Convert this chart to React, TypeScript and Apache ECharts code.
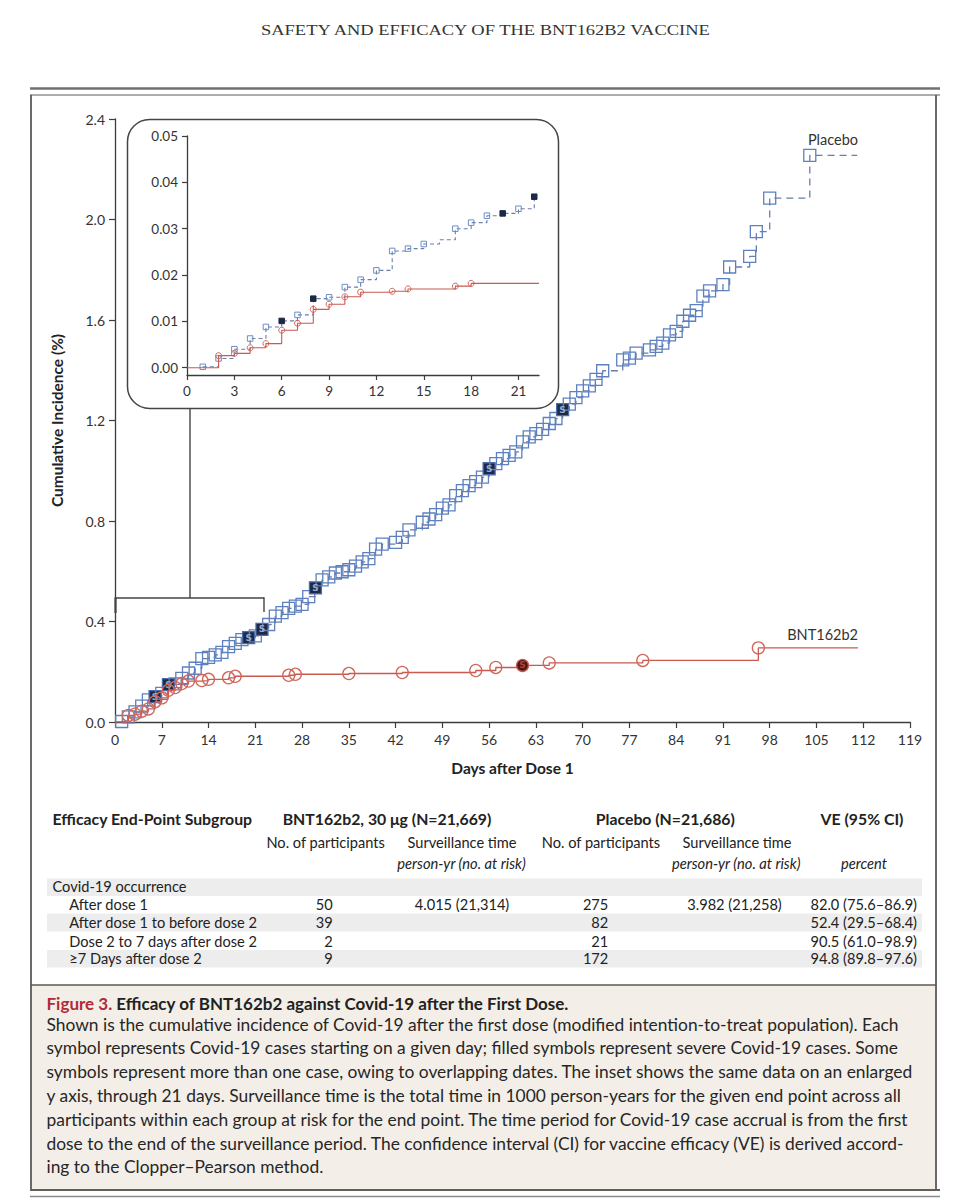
import React, { useEffect, useRef } from "react";
import * as echarts from "echarts";

// ---------------- DATA ----------------
// Main panel: [day, cumulative incidence %]
const mainPlacebo: [number, number][] = [
  [1, 0.002], [2, 0.02], [3, 0.04], [4, 0.063], [5, 0.088], [6, 0.101], [7, 0.114], [8, 0.149],
  [9, 0.152], [10, 0.174], [11, 0.195], [12, 0.214], [13, 0.252], [14, 0.257], [15, 0.267],
  [16, 0.277], [17, 0.3], [18, 0.313], [19, 0.328], [20, 0.336], [21, 0.343], [22, 0.369],
  [23, 0.388], [24, 0.421], [25, 0.435], [26, 0.452], [27, 0.461], [28, 0.468], [29, 0.499],
  [30, 0.534], [31, 0.566], [32, 0.578], [33, 0.593], [34, 0.598], [35, 0.606], [36, 0.62],
  [37, 0.637], [38, 0.65], [39, 0.688], [40, 0.708], [42, 0.715], [43, 0.735], [44, 0.765],
  [46, 0.795], [47, 0.808], [48, 0.825], [49, 0.851], [50, 0.864], [51, 0.901], [52, 0.921],
  [53, 0.941], [54, 0.957], [55, 0.975], [56, 1.008], [57, 1.028], [58, 1.048], [59, 1.061],
  [60, 1.075], [61, 1.115], [62, 1.135], [63, 1.148], [64, 1.165], [65, 1.188], [66, 1.208],
  [67, 1.243], [68, 1.265], [69, 1.291], [70, 1.318], [71, 1.338], [72, 1.364], [73, 1.398],
  [76, 1.441], [77, 1.448], [78, 1.468], [80, 1.481], [81, 1.495], [82, 1.508], [83, 1.541],
  [84, 1.555], [85, 1.595], [86, 1.619], [87, 1.637], [88, 1.695], [89, 1.716], [91, 1.741],
  [92, 1.811], [95, 1.853], [96, 1.952], [98, 2.085], [104, 2.255],
];
const mainPlaceboSevereDays = [6, 8, 20, 22, 30, 56, 67];

const mainBnt: [number, number][] = [
  [2, 0.026], [3, 0.031], [4, 0.043], [5, 0.052], [6, 0.081], [7, 0.096], [8, 0.126],
  [9, 0.137], [10, 0.153], [11, 0.163], [13, 0.165], [14, 0.17], [17, 0.176], [18, 0.182],
  [26, 0.186], [27, 0.19], [35, 0.193], [43, 0.197], [54, 0.205], [57, 0.217], [61, 0.225],
  [65, 0.235], [79, 0.245], [96.3, 0.295],
];
const mainBntSevereDays = [61];
const mainFollowUpEndDay = 111.2;

// Inset panel (enlarged y axis, through 21 days)
const insetPlacebo: [number, number][] = [
  [1, 0.0002], [2, 0.002], [3, 0.004], [4, 0.0063], [5, 0.0088], [6, 0.0101], [7, 0.0114],
  [8, 0.0149], [9, 0.0152], [10, 0.0174], [11, 0.019], [12, 0.021], [13, 0.0252], [14, 0.0257],
  [15, 0.0267], [16, 0.0276], [17, 0.03], [18, 0.0313], [19, 0.0328], [20, 0.0333], [21, 0.0343],
  [22, 0.0369],
];
const insetPlaceboSevereDays = [6, 8, 20, 22];
const insetPlaceboUnmarkedDays = [16];
const insetBnt: [number, number][] = [
  [2, 0.0026], [3, 0.0031], [4, 0.0043], [5, 0.0052], [6, 0.0081], [7, 0.0096], [8, 0.0126],
  [9, 0.0137], [10, 0.0153], [11, 0.0163], [13, 0.0165], [14, 0.017], [17, 0.0176], [18, 0.0182],
];
const insetFollowUpEndDay = 22.3;
const insetXTicks = [0, 3, 6, 9, 12, 15, 18, 21];
const insetYTicks = [0, 0.01, 0.02, 0.03, 0.04, 0.05];

// Table
const tableGroupHeaders = ["Efficacy End-Point Subgroup", "BNT162b2, 30 μg (N=21,669)", "Placebo (N=21,686)", "VE (95% CI)"];
const tableSubHeaders = ["No. of participants", "Surveillance time", "No. of participants", "Surveillance time"];
const tableUnitHeaders = ["person-yr (no. at risk)", "person-yr (no. at risk)", "percent"];
const tableRowLabels = ["Covid-19 occurrence", "After dose 1", "After dose 1 to before dose 2", "Dose 2 to 7 days after dose 2", "≥7 Days after dose 2"];
const bntCounts = ["", "50", "39", "2", "9"];
const bntSurveillance = ["", "4.015 (21,314)", "", "", ""];
const placeboCounts = ["", "275", "82", "21", "172"];
const placeboSurveillance = ["", "3.982 (21,258)", "", "", ""];
const veValues = ["", "82.0 (75.6–86.9)", "52.4 (29.5–68.4)", "90.5 (61.0–98.9)", "94.8 (89.8–97.6)"];

// Caption
const headerText = "SAFETY AND EFFICACY OF THE BNT162B2 VACCINE";
const captionLabel = "Figure 3.";
const captionTitle = "Efficacy of BNT162b2 against Covid-19 after the First Dose.";
const captionLines = [
  "Shown is the cumulative incidence of Covid-19 after the first dose (modified intention-to-treat population). Each",
  "symbol represents Covid-19 cases starting on a given day; filled symbols represent severe Covid-19 cases. Some",
  "symbols represent more than one case, owing to overlapping dates. The inset shows the same data on an enlarged",
  "y axis, through 21 days. Surveillance time is the total time in 1000 person-years for the given end point across all",
  "participants within each group at risk for the end point. The time period for Covid-19 case accrual is from the first",
  "dose to the end of the surveillance period. The confidence interval (CI) for vaccine efficacy (VE) is derived accord-",
  "ing to the Clopper–Pearson method.",
];

// ---------------- HELPERS ----------------
let measureCtx: CanvasRenderingContext2D | null = null;
function measure(text: string, size: number, weight = "normal", style = "normal", family = "Lato") {
  if (!measureCtx) measureCtx = document.createElement("canvas").getContext("2d");
  if (!measureCtx) return text.length * size * 0.5;
  measureCtx.font = `${style} ${weight} ${size}px "${family}"`;
  return measureCtx.measureText(text).width;
}
function fitScale(items: { text: string; w: number }[], size: number, weight = "normal", style = "normal", family = "Lato") {
  let t = 0, m = 0;
  items.forEach((i) => { t += i.w; m += measure(i.text, size, weight, style, family); });
  return m > 0 ? t / m : 1;
}
type TOpt = { size: number; weight?: string; style?: string; family?: string; color?: string; align?: string; scale?: number };
function T(text: string, x: number, y: number, o: TOpt) {
  const align = o.align || "left";
  return {
    type: "text", x, y, scaleX: o.scale || 1, silent: true, z: 10,
    style: {
      text, fill: o.color || "#222", fontSize: o.size, fontWeight: o.weight || "normal",
      fontStyle: o.style || "normal", fontFamily: o.family || "Lato",
      textAlign: align, textVerticalAlign: "middle", align, verticalAlign: "middle",
    },
  };
}
function L(x1: number, y1: number, x2: number, y2: number, stroke: string, lineWidth: number, z = 5) {
  return { type: "line", silent: true, z, shape: { x1, y1, x2, y2 }, style: { stroke, lineWidth } };
}

// ---------------- OPTION ----------------
function buildOption() {
  const PLACEBO_MARK = "#5d80c0";
  const PLACEBO_LINE = "#6a7ea8";
  const BNT_MARK = "#d0675c";
  const BNT_LINE = "#c95a4f";
  const AXIS = "#3c3c3c";

  const mainPlaceboData: any[] = mainPlacebo.map(([d, v]) =>
    mainPlaceboSevereDays.includes(d)
      ? {
          value: [d, v],
          itemStyle: { color: "#1c2a47", borderColor: "#4d6ca8" },
          label: { show: true, position: "inside", formatter: "S", color: "#93aad2", fontSize: 9, fontWeight: "bold", fontFamily: "DejaVu Sans" },
        }
      : [d, v]
  );
  mainPlaceboData.push({ value: [mainFollowUpEndDay - 0.1, mainPlacebo[mainPlacebo.length - 1][1]], symbol: "none" });

  const mainBntData: any[] = [{ value: [0, 0], symbol: "none" }];
  mainBnt.forEach(([d, v]) =>
    mainBntData.push(
      mainBntSevereDays.includes(d)
        ? {
            value: [d, v],
            itemStyle: { color: "#4e1712", borderColor: BNT_LINE },
            label: { show: true, position: "inside", formatter: "S", color: "#a8443a", fontSize: 9, fontWeight: "bold", fontFamily: "DejaVu Sans" },
          }
        : [d, v]
    )
  );
  mainBntData.push({ value: [mainFollowUpEndDay, mainBnt[mainBnt.length - 1][1]], symbol: "none" });

  const insetPlaceboData: any[] = insetPlacebo.map(([d, v]) =>
    insetPlaceboSevereDays.includes(d)
      ? { value: [d, v], itemStyle: { color: "#1c2a47", borderColor: "#1c2a47" } }
      : insetPlaceboUnmarkedDays.includes(d)
      ? { value: [d, v], symbol: "none" }
      : [d, v]
  );
  const insetBntData: any[] = [{ value: [0, 0], symbol: "none" }];
  insetBnt.forEach(([d, v]) => insetBntData.push([d, v]));
  insetBntData.push({ value: [insetFollowUpEndDay, insetBnt[insetBnt.length - 1][1]], symbol: "none" });

  const axisLine = { show: true, onZero: false, lineStyle: { color: AXIS, width: 1.3 } };

  // --------- graphic ---------
  const g: any[] = [];
  // header
  const hSize = 14;
  const hScale = fitScale([{ text: headerText, w: 452 }], hSize, "normal", "normal", "Liberation Serif");
  g.push(T(headerText, 261, 30, { size: hSize, family: "Liberation Serif", color: "#333", scale: hScale }));
  // frame
  g.push(L(30, 88.5, 940, 88.5, "#707070", 2.6));
  g.push(L(30, 95, 940, 95, "#5a5a5a", 1.2));
  g.push(L(31, 95, 31, 1190, "#5a5a5a", 1.8));
  g.push(L(936, 95, 936, 1190, "#5a5a5a", 1.8));
  g.push({ type: "rect", silent: true, z: 1, shape: { x: 31, y: 985, width: 905, height: 205 }, style: { fill: "#f3efe8" } });
  g.push(L(31, 985, 936, 985, "#5a5a5a", 1.6));
  g.push(L(30, 1190, 940, 1190, "#606060", 2.2));
  g.push(L(30, 1196.5, 940, 1196.5, "#8a8a8a", 1.4));

  // inset box + bracket
  g.push({ type: "rect", silent: true, z: 1, shape: { x: 127.5, y: 119.5, width: 431, height: 289, r: 22 }, style: { fill: "none", stroke: "#444", lineWidth: 1.5 } });
  g.push(L(190, 408.5, 190, 598, "#444", 1.4));
  g.push(L(115, 598, 264, 598, "#444", 1.4));
  g.push(L(115.5, 597.3, 115.5, 613, "#444", 2.2));
  g.push(L(264, 597.3, 264, 612, "#444", 1.4));

  // series labels
  g.push(T("Placebo", 858, 139, { size: 14.5, color: "#333", align: "right" }));
  g.push(T("BNT162b2", 858, 634, { size: 14.5, color: "#333", align: "right" }));

  // table bands
  [[878.5, 17.5], [913.5, 18], [950, 17.5]].forEach(([y, h]) =>
    g.push({ type: "rect", silent: true, z: 1, shape: { x: 47, y, width: 875, height: h }, style: { fill: "#ededed" } })
  );
  const tS = 14.5;
  const boldScale = fitScale(
    [
      { text: tableGroupHeaders[0], w: 197 },
      { text: tableGroupHeaders[1], w: 212 },
      { text: tableGroupHeaders[2], w: 136 },
      { text: tableGroupHeaders[3], w: 86 },
    ], 15, "bold"
  );
  const regScale = fitScale(
    [
      { text: tableSubHeaders[0], w: 120 },
      { text: tableSubHeaders[1], w: 111 },
      { text: tableRowLabels[0], w: 132 },
      { text: tableRowLabels[2], w: 187 },
      { text: tableRowLabels[3], w: 187 },
      { text: veValues[1], w: 107 },
    ], tS
  );
  const itScale = fitScale([{ text: tableUnitHeaders[0], w: 131 }, { text: tableUnitHeaders[2], w: 44 }], tS, "normal", "italic");
  const gh = [52.5, 387, 665.3, 862];
  tableGroupHeaders.forEach((t, i) =>
    g.push(T(t, gh[i], 819, { size: 15, weight: "bold", align: i === 0 ? "left" : "center", scale: boldScale }))
  );
  const sh = [325.6, 462, 601, 737];
  tableSubHeaders.forEach((t, i) => g.push(T(t, sh[i], 842.5, { size: tS, align: "center", scale: regScale })));
  const uh = [461.5, 736.2, 864];
  tableUnitHeaders.forEach((t, i) => g.push(T(t, uh[i], 863.5, { size: tS, style: "italic", align: "center", scale: itScale })));
  const rowY = [887, 905, 923, 941.5, 959];
  tableRowLabels.forEach((t, i) => {
    const y = rowY[i];
    g.push(T(t, i === 0 ? 52.5 : 69.3, y, { size: tS, scale: regScale }));
    if (bntCounts[i]) g.push(T(bntCounts[i], 332.7, y, { size: tS, align: "right", scale: regScale }));
    if (bntSurveillance[i]) g.push(T(bntSurveillance[i], 462, y, { size: tS, align: "center", scale: regScale }));
    if (placeboCounts[i]) g.push(T(placeboCounts[i], 608.3, y, { size: tS, align: "right", scale: regScale }));
    if (placeboSurveillance[i]) g.push(T(placeboSurveillance[i], 734.5, y, { size: tS, align: "center", scale: regScale }));
    if (veValues[i]) g.push(T(veValues[i], 917, y, { size: tS, align: "right", scale: regScale }));
  });

  // caption
  const cS = 17.5;
  const capX = 46.5;
  const titleFull = captionLabel + " " + captionTitle;
  const titleScale = fitScale([{ text: titleFull, w: 523 }], cS, "bold");
  g.push(T(captionLabel, capX, 1003, { size: cS, weight: "bold", color: "#b22a3a", scale: titleScale }));
  g.push(T(captionTitle, capX + measure(captionLabel + " ", cS, "bold") * titleScale, 1003, { size: cS, weight: "bold", color: "#222", scale: titleScale }));
  const lineEnds = [900, 880, 922, 905, 911, 912, 323];
  const capScale = fitScale(captionLines.map((t, i) => ({ text: t, w: lineEnds[i] - capX })), cS);
  captionLines.forEach((t, i) => g.push(T(t, capX, 1024 + i * 23.8, { size: cS, color: "#262626", scale: capScale })));

  return {
    animation: false,
    backgroundColor: "#ffffff",
    textStyle: { fontFamily: "Lato" },
    grid: [
      { left: 115, top: 119, width: 795, height: 603 },
      { left: 187, top: 136, width: 352, height: 239 },
    ],
    xAxis: [
      {
        type: "value", gridIndex: 0, min: 0, max: 119, interval: 7,
        axisLine, axisTick: { show: true, length: 6, lineStyle: { color: AXIS, width: 1.2 } },
        axisLabel: { fontSize: 14, color: "#333", margin: 10 }, splitLine: { show: false },
        name: "Days after Dose 1", nameLocation: "middle", nameGap: 38,
        nameTextStyle: { fontSize: 15.5, fontWeight: "bold", color: "#222" },
      },
      {
        type: "value", gridIndex: 1, min: 0, max: insetFollowUpEndDay,
        axisLine, axisTick: { show: true, length: 5, customValues: insetXTicks, lineStyle: { color: AXIS, width: 1.2 } },
        axisLabel: { fontSize: 13.5, color: "#333", margin: 9, customValues: insetXTicks }, splitLine: { show: false },
      },
    ],
    yAxis: [
      {
        type: "value", gridIndex: 0, min: 0, max: 2.4, interval: 0.4,
        axisLine, axisTick: { show: true, length: 6, lineStyle: { color: AXIS, width: 1.2 } },
        axisLabel: { fontSize: 14, color: "#333", margin: 10, formatter: (v: number) => v.toFixed(1) },
        splitLine: { show: false },
        name: "Cumulative Incidence (%)", nameLocation: "middle", nameGap: 50, nameRotate: 90,
        nameTextStyle: { fontSize: 15.5, fontWeight: "bold", color: "#222" },
      },
      {
        type: "value", gridIndex: 1, min: -0.00157, max: 0.05,
        axisLine, axisTick: { show: true, length: 5, customValues: insetYTicks, lineStyle: { color: AXIS, width: 1.2 } },
        axisLabel: { fontSize: 13.5, color: "#333", margin: 9, customValues: insetYTicks, formatter: (v: number) => v.toFixed(2) },
        splitLine: { show: false },
      },
    ],
    series: [
      {
        name: "Placebo", type: "line", xAxisIndex: 0, yAxisIndex: 0, step: "end", showAllSymbol: true,
        symbol: "rect", symbolSize: 12, silent: true, z: 3,
        lineStyle: { color: PLACEBO_LINE, width: 1.3, type: [7, 5] },
        itemStyle: { color: "rgba(255,255,255,0)", borderColor: PLACEBO_MARK, borderWidth: 1.3 },
        emphasis: { disabled: true }, data: mainPlaceboData,
      },
      {
        name: "BNT162b2", type: "line", xAxisIndex: 0, yAxisIndex: 0, step: "end", showAllSymbol: true,
        symbol: "circle", symbolSize: 12, silent: true, z: 4,
        lineStyle: { color: BNT_LINE, width: 1.3 },
        itemStyle: { color: "rgba(255,255,255,0)", borderColor: BNT_MARK, borderWidth: 1.3 },
        emphasis: { disabled: true }, data: mainBntData,
      },
      {
        name: "Placebo inset", type: "line", xAxisIndex: 1, yAxisIndex: 1, step: "end", showAllSymbol: true,
        symbol: "rect", symbolSize: 5.5, silent: true, z: 3,
        lineStyle: { color: PLACEBO_LINE, width: 1.1, type: [4, 3] },
        itemStyle: { color: "rgba(255,255,255,0)", borderColor: "#6d8cc8", borderWidth: 1 },
        emphasis: { disabled: true }, data: insetPlaceboData,
      },
      {
        name: "BNT162b2 inset", type: "line", xAxisIndex: 1, yAxisIndex: 1, step: "end", showAllSymbol: true,
        symbol: "circle", symbolSize: 6, silent: true, z: 4,
        lineStyle: { color: BNT_LINE, width: 1.1 },
        itemStyle: { color: "rgba(255,255,255,0)", borderColor: BNT_MARK, borderWidth: 1 },
        emphasis: { disabled: true }, data: insetBntData,
      },
    ],
    graphic: { elements: g },
  };
}

export default function App() {
  const ref = useRef<HTMLDivElement>(null);
  useEffect(() => {
    if (!ref.current) return;
    const chart = echarts.init(ref.current, null, { renderer: "svg" });
    chart.setOption(buildOption() as any);
    return () => chart.dispose();
  }, []);
  return (
    <div
      ref={ref}
      style={{ position: "absolute", left: 0, top: 0, width: 961, height: 1200, background: "#fff" }}
    />
  );
}
